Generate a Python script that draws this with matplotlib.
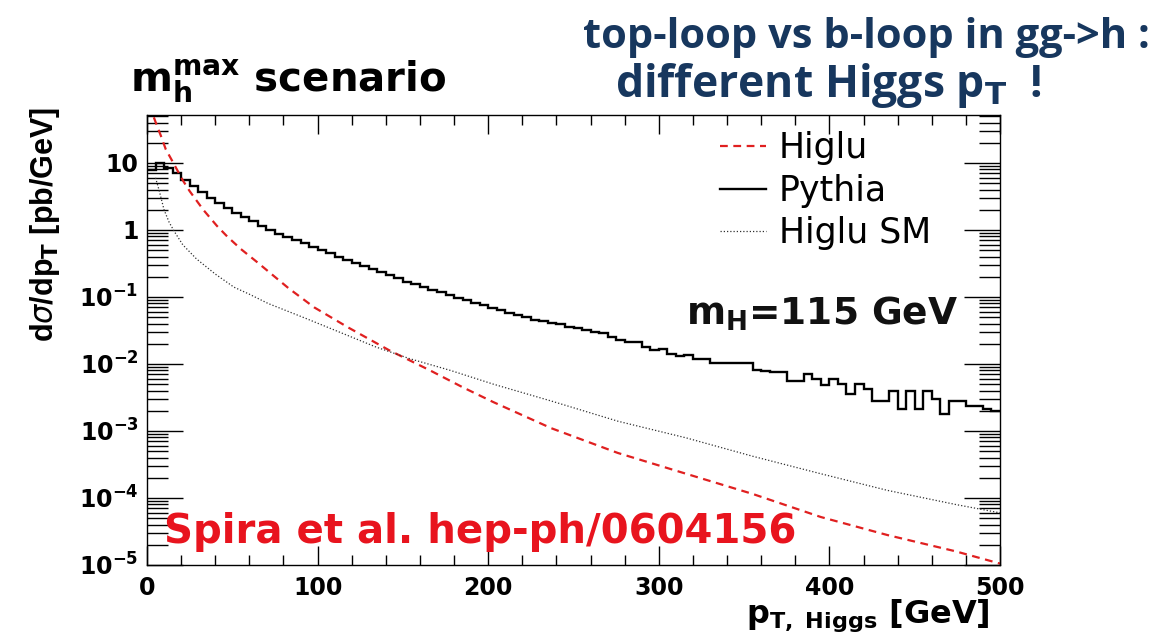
import numpy as np
import matplotlib
matplotlib.use("Agg")
import matplotlib.pyplot as plt
from matplotlib.ticker import FixedLocator, FuncFormatter, NullFormatter

plt.rcParams['font.family'] = ['DejaVu Sans']
plt.rcParams['mathtext.fontset'] = 'dejavusans'

# Pythia histogram, 5 GeV bins from 0 to 500 GeV  [pb/GeV]
pythia_width = 5.0
pythia = [
    7.9, 10.0, 8.5, 7.0, 5.6, 4.5, 3.7, 3.0, 2.5, 2.1,
    1.8, 1.55, 1.35, 1.15, 1.0, 0.87, 0.78, 0.70, 0.63, 0.56,
    0.50, 0.45, 0.40, 0.36, 0.32, 0.29, 0.26, 0.235, 0.21, 0.19,
    0.17, 0.155, 0.14, 0.128, 0.117, 0.107, 0.098, 0.090, 0.082, 0.075,
    0.069, 0.064, 0.058, 0.054, 0.050, 0.046, 0.044, 0.041, 0.040, 0.036,
    0.035, 0.032, 0.030, 0.029, 0.025, 0.023, 0.021, 0.021, 0.018, 0.016,
    0.017, 0.014, 0.013, 0.0135, 0.012, 0.012, 0.0104, 0.0102, 0.0102, 0.0102,
    0.0102, 0.0080, 0.0078, 0.0075, 0.0075, 0.0056, 0.0056, 0.0072, 0.0060, 0.0048,
    0.0060, 0.0050, 0.0036, 0.0051, 0.0042, 0.0028, 0.0028, 0.0040, 0.0021, 0.0040,
    0.0021, 0.0040, 0.0030, 0.0018, 0.0028, 0.0028, 0.0024, 0.0024, 0.0021, 0.0020,
]

# Higlu (MSSM, mh-max) curve
higlu_pt = [4, 6, 8, 11, 15, 21, 25, 33, 41, 47, 55, 64, 83, 98, 118, 142,
            166, 185, 203, 237, 276, 316, 355, 395, 434, 474, 500]
higlu = [48, 35, 26, 16, 10.5, 5.5, 3.8, 2.0, 1.15, 0.8, 0.52, 0.34, 0.135,
         0.07, 0.035, 0.016, 0.008, 0.0045, 0.0027, 0.0011, 4.7e-4, 2.3e-4,
         1.15e-4, 5.2e-5, 2.8e-5, 1.6e-5, 1.05e-5]

# Higlu SM curve
sm_pt = [5, 7, 10, 13, 16, 21, 29, 40, 51, 60, 71, 93, 110, 134, 154, 178,
         203, 237, 276, 316, 355, 395, 434, 474, 500]
sm = [6.0, 4.0, 2.0, 1.3, 0.95, 0.6, 0.37, 0.22, 0.14, 0.11, 0.08, 0.048,
      0.032, 0.018, 0.012, 0.008, 0.005, 0.0028, 0.0014, 7.9e-4, 4.2e-4,
      2.3e-4, 1.3e-4, 8e-5, 6e-5]

W, H = 1158, 641
fig = plt.figure(figsize=(W / 100, H / 100), dpi=100, facecolor='white')
ax = fig.add_axes([147 / W, 1 - 565 / H, 853 / W, 450 / H])

edges = np.arange(len(pythia) + 1) * pythia_width
ax.plot(higlu_pt, higlu, color='#e02020', lw=1.6, dashes=(3.5, 2.5), label='Higlu')
ax.stairs(pythia, edges, color='black', lw=1.7, label='Pythia', baseline=None)
ax.plot(sm_pt, sm, color='#303030', lw=0.9, dashes=(1, 1.6), label='Higlu SM')

ax.set_yscale('log')
ax.set_xlim(0, 500)
ax.set_ylim(1e-5, 52)

ax.xaxis.set_major_locator(FixedLocator([0, 100, 200, 300, 400, 500]))
ax.xaxis.set_minor_locator(FixedLocator(np.arange(0, 501, 20)))
ax.yaxis.set_major_locator(FixedLocator([10.0 ** k for k in range(-5, 2)]))
ax.yaxis.set_minor_locator(FixedLocator([m * 10.0 ** k for k in range(-5, 2) for m in range(2, 10)]))
ax.yaxis.set_minor_formatter(NullFormatter())


def ylab(v, pos):
    k = int(round(np.log10(v)))
    if k == 1:
        return '10'
    if k == 0:
        return '1'
    return r'$\mathbf{10^{%d}}$' % k


ax.yaxis.set_major_formatter(FuncFormatter(ylab))
ax.tick_params(which='both', direction='in', top=True, right=True, width=1.0, colors='black')
ax.tick_params(axis='x', which='major', length=14, labelsize=17, pad=8)
ax.tick_params(axis='x', which='minor', length=7)
ax.tick_params(axis='y', which='major', length=26, labelsize=17, pad=6)
ax.tick_params(axis='y', which='minor', length=15)
for lab in ax.get_xticklabels() + ax.get_yticklabels():
    lab.set_fontweight('bold')
for s in ax.spines.values():
    s.set_linewidth(1.0)

leg = ax.legend(loc='upper left', bbox_to_anchor=(0.655, 0.995), frameon=False,
                fontsize=25, handlelength=1.35, handletextpad=0.35, labelspacing=0.25,
                borderaxespad=0)

ax.text(0.632, 0.535, r'm$_\mathbf{H}$=115 GeV', transform=ax.transAxes,
        fontsize=27, fontweight='bold', color='#111111', va='baseline')
ax.text(0.02, 0.05, 'Spira et al. hep-ph/0604156', transform=ax.transAxes,
        fontsize=29, fontweight='bold', color='#e8141e', va='baseline')

fig.text(130 / W, 1 - 92 / H, r'm$_\mathbf{h}^\mathbf{max}$ scenario', fontsize=29,
         fontweight='bold', ha='left', va='baseline')
fig.text(1150 / W, 1 - 48 / H, 'top-loop vs b-loop in gg->h :', fontsize=30,
         fontweight='bold', family=['Open Sans', 'DejaVu Sans'], color='#17375e', ha='right', va='baseline')
fig.text(1042 / W, 1 - 97 / H, r'different Higgs p$_\mathbf{T}$  !', fontsize=32,
         fontweight='bold', family=['Open Sans', 'DejaVu Sans'], color='#17375e', ha='right', va='baseline')

fig.text(990 / W, 1 - 623 / H, r'p$_\mathbf{T,\ Higgs}$ [GeV]', fontsize=23,
         fontweight='bold', ha='right', va='baseline')
fig.text(45 / W, 1 - 224 / H, r'd$\sigma$/dp$_\mathbf{T}$ [pb/GeV]', fontsize=22,
         fontweight='bold', family=['Liberation Sans', 'DejaVu Sans'],
         rotation=90, ha='center', va='center')

fig.savefig('out.png', dpi=100, facecolor='white')
